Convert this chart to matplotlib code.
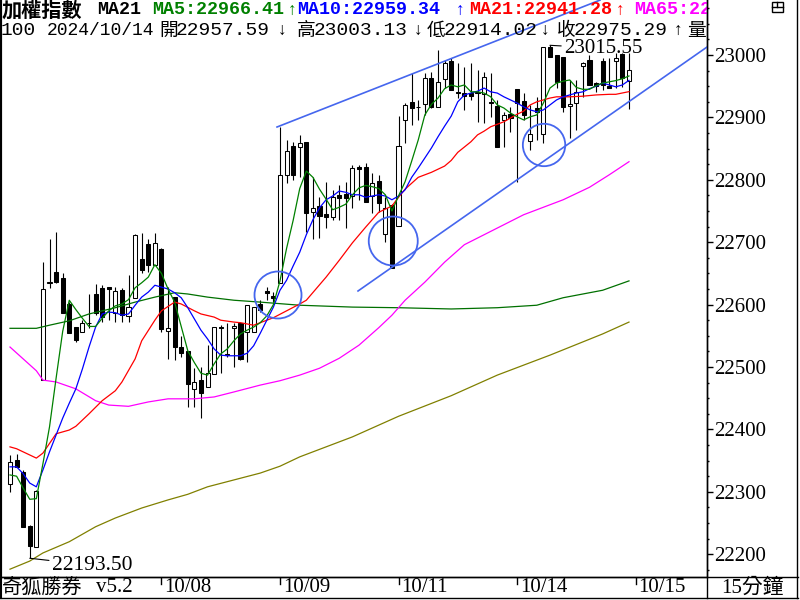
import numpy as np
import matplotlib.pyplot as plt
from matplotlib.lines import Line2D
from matplotlib.patches import Ellipse, Rectangle
from matplotlib.transforms import blended_transform_factory

# 15-minute bars of the TAIEX, tail of 10/04 through 10/14
opens = [22312, 22351, 22332, 22245, 22212, 22479, 22635, 22652, 22643, 22601,
         22564, 22556, 22570, 22617, 22627, 22628, 22587, 22623, 22582, 22611,
         22673, 22697, 22664, 22689, 22558, 22612, 22532, 22526, 22465, 22479,
         22468, 22489, 22564, 22521, 22562, 22570, 22556, 22556, 22601, 22622,
         22614, 22635, 22808, 22854, 22853, 22861, 22748, 22758, 22745, 22740,
         22776, 22777, 22774, 22821, 22821, 22774, 22798, 22713, 22760, 22726,
         22896, 22925, 22917, 22922, 22963, 22917, 22962, 22990, 22940, 22939,
         22939, 22940, 22938, 22925, 22918, 22896, 22905, 22946, 22926, 22862,
         22915, 22873, 23013, 23000, 22997, 22918, 22923, 22982, 22992, 22955,
         22990, 22950, 22990, 23002, 22957.59]
highs = [22359, 22361, 22335, 22246, 22303, 22668, 22705, 22716, 22651, 22604,
         22564, 22575, 22617, 22633, 22631, 22628, 22628, 22627, 22647, 22713,
         22715, 22705, 22715, 22690, 22628, 22612, 22550, 22526, 22498, 22500,
         22535, 22564, 22567, 22570, 22570, 22572, 22599, 22596, 22607, 22628,
         22620, 22885, 22864, 22861, 22872, 22861, 22805, 22772, 22797, 22784,
         22792, 22797, 22824, 22824, 22827, 22811, 22808, 22772, 22762, 22902,
         22923, 22971, 22928, 22971, 22973, 23008, 22992, 22995, 22987, 22981,
         22987, 22976, 22973, 22971, 22928, 22909, 22917, 22946, 22939, 22920,
         22933, 23013, 23015.55, 23000, 22997, 22960, 22960, 22989, 23000, 22957,
         22995, 22995, 23003, 23003, 23003.13]
lows = [22300, 22340, 22244, 22193.50, 22211, 22479, 22627, 22635, 22587, 22555,
        22540, 22556, 22563, 22583, 22572, 22575, 22572, 22572, 22572, 22611,
        22651, 22652, 22663, 22556, 22513, 22511, 22516, 22436, 22436, 22418,
        22468, 22489, 22490, 22516, 22500, 22511, 22508, 22556, 22588, 22607,
        22604, 22635, 22795, 22800, 22805, 22716, 22705, 22707, 22723, 22736,
        22736, 22723, 22755, 22768, 22764, 22747, 22748, 22700, 22659, 22726,
        22859, 22888, 22896, 22904, 22915, 22917, 22947, 22944, 22931, 22912,
        22928, 22893, 22891, 22901, 22853, 22853, 22877, 22796, 22896, 22848,
        22864, 22859, 22997, 22947, 22909, 22867, 22880, 22933, 22952, 22941,
        22944, 22947, 22947, 22949, 22914.02]
closes = [22348, 22340, 22244, 22213, 22301, 22625, 22636, 22636, 22587, 22555,
          22543, 22571, 22571, 22587, 22580, 22625, 22622, 22583, 22596, 22712,
          22655, 22664, 22699, 22561, 22562, 22532, 22522, 22473, 22476, 22458,
          22490, 22564, 22562, 22520, 22566, 22513, 22599, 22596, 22591, 22619,
          22611, 22808, 22846, 22808, 22859, 22747, 22755, 22742, 22740, 22772,
          22771, 22771, 22819, 22817, 22764, 22795, 22763, 22755, 22659, 22854,
          22920, 22915, 22916, 22963, 22917, 22957, 22987, 22944, 22939, 22934,
          22934, 22939, 22965, 22923, 22853, 22904, 22899, 22923, 22904, 22873,
          22909, 23013, 22997, 22957, 22917, 22922, 22941, 22987, 22952, 22950,
          22952, 22947, 22995, 22963, 22975.29]

ma5 = [22327, 22325, 22306, 22288, 22289, 22345, 22404, 22482, 22557, 22607,
       22592, 22578, 22565, 22565, 22578, 22590, 22598, 22601, 22608, 22627,
       22635, 22644, 22664, 22650, 22625, 22604, 22565, 22526, 22507, 22490,
       22487, 22505, 22521, 22529, 22542, 22553, 22559, 22564, 22571, 22582,
       22600, 22638, 22690, 22735, 22786, 22814, 22804, 22785, 22769, 22752,
       22756, 22761, 22776, 22787, 22791, 22789, 22786, 22776, 22750, 22774,
       22797, 22830, 22864, 22904, 22921, 22931, 22946, 22952, 22949, 22952,
       22941, 22941, 22939, 22933, 22920, 22915, 22907, 22901, 22896, 22901,
       22904, 22923, 22947, 22955, 22958, 22960, 22948, 22945, 22945, 22951,
       22955, 22957, 22959, 22962, 22966.41]
ma10 = [22340, 22340, 22329, 22314, 22308, 22335, 22364, 22391, 22418, 22442,
        22465, 22497, 22532, 22564, 22585, 22588, 22587, 22583, 22585, 22599,
        22612, 22620, 22631, 22628, 22625, 22619, 22611, 22595, 22577, 22559,
        22545, 22529, 22519, 22518, 22518, 22518, 22522, 22534, 22554, 22575,
        22596, 22623, 22639, 22662, 22684, 22712, 22736, 22755, 22768, 22774,
        22782, 22780, 22776, 22776, 22772, 22774, 22776, 22774, 22768, 22774,
        22784, 22804, 22819, 22835, 22851, 22869, 22886, 22902, 22925, 22936,
        22939, 22942, 22947, 22941, 22939, 22933, 22928, 22923, 22917, 22912,
        22909, 22912, 22920, 22928, 22933, 22936, 22939, 22941, 22946, 22950,
        22955, 22952, 22949, 22952, 22959.34]

# smoother averages, read at selected bars
ma21_idx = [0, 1, 2, 4, 5, 7, 9, 10, 12, 14, 16, 17, 19, 20, 22, 23, 25, 26, 28, 29,
            31, 32, 34, 35, 37, 38, 40, 42, 44, 45, 48, 50, 52, 54, 56, 58, 59, 60, 62, 64,
            66, 67, 68, 70, 71, 72, 73, 75, 76, 77, 78, 79, 80, 82, 83, 85, 87, 89, 91, 92,
            94]
ma21 = [22372, 22369, 22364, 22354, 22362, 22393, 22399, 22405, 22425, 22446,
        22462, 22476, 22513, 22542, 22575, 22590, 22604, 22601, 22590, 22585,
        22580, 22575, 22572, 22571, 22567, 22571, 22579, 22590, 22601, 22607,
        22644, 22671, 22699, 22724, 22748, 22758, 22772, 22785, 22804, 22812,
        22822, 22831, 22844, 22861, 22872, 22878, 22885, 22893, 22899, 22905,
        22910, 22920, 22925, 22931, 22933, 22933, 22934, 22936, 22937, 22937,
        22941.28]
ma65_idx = [0, 2, 4, 5, 7, 10, 13, 15, 18, 21, 24, 28, 31, 34, 38, 41, 44, 47, 50, 53,
            56, 58, 60, 63, 66, 69, 72, 75, 78, 81, 84, 88, 91, 94]
ma65 = [22532, 22513, 22494, 22479, 22476, 22465, 22446, 22439, 22437, 22444,
        22449, 22449, 22452, 22460, 22471, 22478, 22487, 22498, 22514, 22535,
        22563, 22583, 22607, 22636, 22668, 22696, 22712, 22728, 22744, 22756,
        22768, 22788, 22808, 22829]
ma_mid_idx = [0, 4, 6, 9, 12, 16, 19, 22, 25, 27, 30, 34, 38, 44, 52, 59, 67, 74, 80, 84,
              90, 94]
ma_mid = [22562, 22562, 22567, 22574, 22585, 22595, 22604, 22612, 22619, 22617,
          22612, 22607, 22604, 22599, 22596, 22595, 22593, 22595, 22599, 22611,
          22623, 22638]
ma_slow_idx = [0, 3, 5, 9, 13, 16, 20, 24, 27, 30, 34, 38, 41, 44, 52, 59, 67, 74, 82, 90,
               94]
ma_slow = [22176, 22189, 22202, 22220, 22244, 22258, 22274, 22287, 22296, 22308,
           22319, 22330, 22341, 22356, 22388, 22421, 22454, 22487, 22519, 22553,
           22572]

day_labels = ["10/08", "10/09", "10/11", "10/14", "10/15"]
day_start_idx = [23, 41, 59, 77, 95]

# hand-drawn channel and circles (bar index, price)
upper_line_idx = [40.55, 89.6]
upper_line_val = [22884.6, 23088.0]
lower_line_idx = [52.85, 105.85]
lower_line_val = [22621.8, 23012.8]
circle_idx = [40.7, 58.2, 81.1]
circle_val = [22615.4, 22701.9, 22855.8]

W, H = 800, 600
PX_PER_BAR = 6.585
PX_PER_PT = 0.624
FIRST_BAR_PX = 10
TOP_TICK_VAL, TOP_TICK_PX = 23000, 55
PLOT_L, PLOT_R, PLOT_B = 1, 707, 577

SERIF = ["Liberation Serif", "Noto Sans CJK TC", "DejaVu Sans"]
MONO = ["Liberation Mono", "DejaVu Sans"]
CJK = ["Noto Sans CJK TC", "DejaVu Sans"]
plt.rcParams["font.family"] = SERIF

fig = plt.figure(figsize=(W / 100, H / 100), dpi=100)
fig.patch.set_facecolor("white")


def fx(x):
    return x / W


def fy(y):
    return 1 - y / H


def fline(x0, y0, x1, y1, lw=1.0):
    fig.add_artist(Line2D([fx(x0), fx(x1)], [fy(y0), fy(y1)],
                          transform=fig.transFigure, color="black", lw=lw))


ax = fig.add_axes([fx(PLOT_L), fy(PLOT_B), (PLOT_R - PLOT_L) / W, PLOT_B / H])
ax.set_xlim(-(FIRST_BAR_PX - PLOT_L) / PX_PER_BAR, (PLOT_R - FIRST_BAR_PX) / PX_PER_BAR)
ax.set_ylim(TOP_TICK_VAL - (PLOT_B - TOP_TICK_PX) / PX_PER_PT,
            TOP_TICK_VAL + TOP_TICK_PX / PX_PER_PT)

# candles
idx = np.arange(len(closes))
o, h, l, c = (np.array(v, dtype=float) for v in (opens, highs, lows, closes))
up = c >= o
ax.vlines(idx, l, h, color="black", lw=0.8, zorder=3)
ax.bar(idx, np.maximum(np.abs(c - o), 0.8), bottom=np.minimum(o, c), width=0.62,
       color=np.where(up, "white", "black"), edgecolor="black", linewidth=0.75, zorder=4)

# moving averages
ax.plot(ma_slow_idx, ma_slow, color="#808000", lw=0.9, zorder=5)
ax.plot(ma_mid_idx, ma_mid, color="#007000", lw=0.9, zorder=5)
ax.plot(ma65_idx, ma65, color="#ff00ff", lw=0.9, zorder=5)
ax.plot(ma21_idx, ma21, color="#ff0000", lw=0.9, zorder=5)
ax.plot(idx, ma10, color="#0000ff", lw=0.9, zorder=5)
ax.plot(idx, ma5, color="#008000", lw=0.9, zorder=5)

# channel lines and circles
pen = "#4566ee"
ax.plot(upper_line_idx, upper_line_val, color=pen, lw=1.2, zorder=6, clip_on=False)
ax.plot(lower_line_idx, lower_line_val, color=pen, lw=1.2, zorder=6)
for ci, cv, r in zip(circle_idx, circle_val, [23.5, 24.5, 21.2]):
    ax.add_patch(Ellipse((ci, cv), 2 * r / PX_PER_BAR, 2 * r / PX_PER_PT,
                         fill=False, ec=pen, lw=1.3, zorder=6))

# highest / lowest labels
hi = int(np.argmax(h))
lo = int(np.argmin(l))
ax.annotate(f"{h[hi]:.2f}", xy=(hi, h[hi]), xytext=(14, -3), textcoords="offset pixels",
            ha="left", va="center", fontsize=15, zorder=7,
            arrowprops=dict(arrowstyle="-", lw=0.8, color="black", shrinkA=0, shrinkB=0))
ax.annotate(f"{l[lo]:.2f}", xy=(lo, l[lo]), xytext=(22, -7), textcoords="offset pixels",
            ha="left", va="center", fontsize=15.5, zorder=7,
            arrowprops=dict(arrowstyle="-", lw=0.8, color="black", shrinkA=0, shrinkB=0))

# axes styling
ax.set_xticks([])
ax.yaxis.tick_right()
ax.set_yticks(np.arange(22200, 23001, 100))
ax.set_yticks(np.arange(22175, 23076, 25), minor=True)
ax.tick_params(axis="y", which="major", direction="out", length=4.3, width=1,
               pad=0.5, labelsize=15)
ax.tick_params(axis="y", which="minor", direction="out", length=1.5, width=1)
ax.spines["top"].set_visible(False)
ax.spines["left"].set_linewidth(1.5)
ax.spines["right"].set_linewidth(1)
ax.spines["bottom"].set_linewidth(1)

# outer frame and bottom strip
fline(0, PLOT_B, 798, PLOT_B)
fline(797, 0, 797, 598)
fline(0, 598, 798, 598)
fline(1, 0, 1, 598, lw=1.5)
fline(PLOT_R, 0, PLOT_R, 598)

blend = blended_transform_factory(ax.transData, fig.transFigure)
for di, lab in zip(day_start_idx, day_labels):
    fig.add_artist(Line2D([di, di], [fy(578), fy(584)], transform=blend,
                          color="black", lw=1))
    fig.text(di + 0.45, fy(588), lab, transform=blend, ha="left", va="center",
             fontsize=15)

fig.text(fx(2), fy(588), "奇狐勝券", ha="left", va="center", fontsize=14.5, family=CJK)
fig.text(fx(96), fy(588), "v5.2", ha="left", va="center", fontsize=15)
fig.text(fx(752), fy(588), "15分鐘", ha="center", va="center", fontsize=15)


# header rows
def head(x, y, s, color="black", size=13.2, family=MONO, weight="normal",
         clip=False, ha="left"):
    ax.text(fx(x), fy(y), s, transform=fig.transFigure, ha=ha, va="center",
            color=color, fontsize=size, family=family, weight=weight,
            clip_on=clip, zorder=8)


def arrow(x, y, s, color="black"):
    head(x, y, s, color=color, size=12.5, weight="bold", ha="center")


row1 = 10
head(2, row1, "加權指數", size=14.5, family=CJK, weight="bold")
head(97, row1, "MA21", weight="bold")
head(152, row1, f"MA5:{ma5[-1]:.2f}", color="#008000", weight="bold")
arrow(292, row1, "↑", color="#008000")
head(297, row1, f"MA10:{ma10[-1]:.2f}", color="#0000ff", weight="bold")
arrow(460, row1, "↑", color="#0000ff")
head(469, row1, f"MA21:{ma21[-1]:.2f}", color="#ff0000", weight="bold")
arrow(620, row1, "↑", color="#ff0000")
head(634, row1, f"MA65:{ma65[-1]:.2f}", color="#ff00ff", weight="bold", clip=True)

row2 = 30.5
head(1, row2, "100", size=14)
head(47, row2, "2024/10/14", size=13)
head(159, row2, "開", size=13.5, family=CJK)
head(176, row2, f"{o[-1]:.2f}", size=14)
arrow(282, row2, "↓")
head(297, row2, "高", size=13.5, family=CJK)
head(314, row2, f"{h[-1]:.2f}", size=14)
arrow(418, row2, "↓")
head(427, row2, "低", size=13.5, family=CJK)
head(444, row2, f"{l[-1]:.2f}", size=14)
arrow(545, row2, "↓")
head(557, row2, "收", size=13.5, family=CJK)
head(574, row2, f"{c[-1]:.2f}", size=14)
arrow(678, row2, "↑")
head(687, row2, "量", size=13.5, family=CJK)

# small window icon at top right
fig.add_artist(Rectangle((fx(772), fy(12)), 11 / W, 10 / H, transform=fig.transFigure,
                         fill=False, ec="black", lw=1))
fline(772, 7, 783, 7)
fline(777, 2, 777, 7)

fig.savefig("out.png", dpi=100)
